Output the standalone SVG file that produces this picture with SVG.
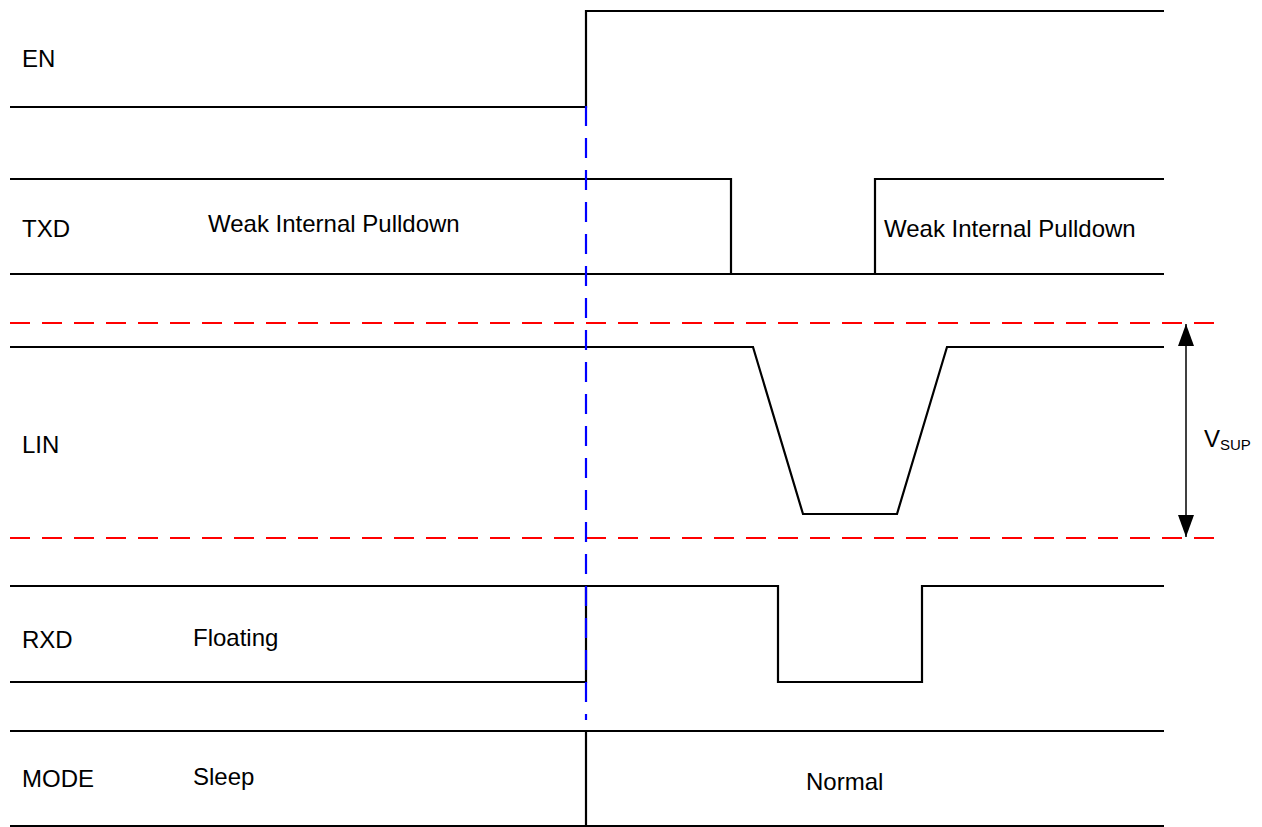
<svg xmlns="http://www.w3.org/2000/svg" width="1262" height="827" viewBox="0 0 1262 827">
<style>
.sig{fill:none;stroke:#000;stroke-width:2.2}
.ref{fill:none;stroke:#ff0000;stroke-width:2.2;stroke-dasharray:20 12}
.mark{fill:none;stroke:#0000ff;stroke-width:2.2;stroke-dasharray:20 12}
.dim{fill:none;stroke:#000;stroke-width:1.5}
text{font-family:"Liberation Sans",Arial,sans-serif;font-size:24px;fill:#000}
.sub{font-size:15px}
</style>
<defs>
<marker id="ah" viewBox="0 0 22 16" refX="22" refY="8" markerWidth="22" markerHeight="16" markerUnits="userSpaceOnUse" orient="auto">
<path d="M0,0 L22,8 L0,16 Z" fill="#000"/>
</marker>
</defs>
<rect width="1262" height="827" fill="#fff"/>
<g id="en">
<path class="sig" d="M10,107 H586 V11 H1164"/>
<text x="22" y="67">EN</text>
</g>
<g id="txd">
<path class="sig" d="M10,179 H731 V274 M875,274 V179 H1164 M10,274 H1164"/>
<text x="22" y="237">TXD</text>
<text x="208" y="232">Weak Internal Pulldown</text>
<text x="884" y="237">Weak Internal Pulldown</text>
</g>
<g id="lin">
<path class="sig" d="M10,347 H753 L803,514 H897 L947,347 H1164"/>
<text x="22" y="453">LIN</text>
</g>
<g id="rxd">
<path class="sig" d="M10,586 H778 V682 H922 V586 H1164 M10,682 H586 V586"/>
<text x="22" y="648">RXD</text>
<text x="193" y="646">Floating</text>
</g>
<g id="mode">
<path class="sig" d="M10,731 H1164 M10,826 H1164 M586,731 V826"/>
<text x="22" y="787">MODE</text>
<text x="193" y="785">Sleep</text>
<text x="806" y="790">Normal</text>
</g>
<g id="vsup">
<text x="1204" y="447">V<tspan class="sub" dy="3">SUP</tspan></text>
</g>
<g id="connectors">
<path class="ref" d="M10,323 H1214"/>
<path class="ref" d="M10,538 H1214"/>
<path class="mark" d="M586,106 V720"/>
<path class="dim" d="M1186,440 V324" marker-end="url(#ah)"/>
<path class="dim" d="M1186,440 V537" marker-end="url(#ah)"/>
</g>
</svg>
